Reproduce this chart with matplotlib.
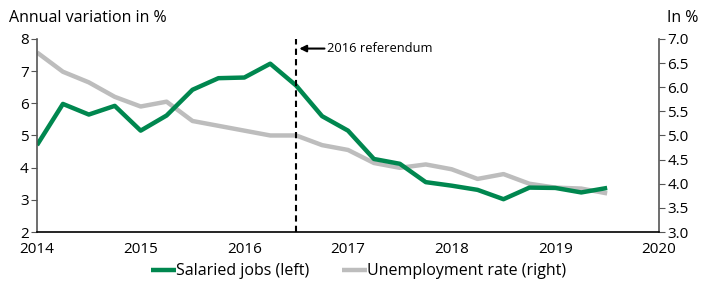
import matplotlib
matplotlib.use("Agg")
import matplotlib.pyplot as plt
import numpy as np

plt.rcParams['font.family'] = ['Open Sans', 'DejaVu Sans']

quarters = [2014.0 + 0.25 * i for i in range(23)]
salaried_jobs = [4.7, 5.98, 5.65, 5.92, 5.15, 5.62, 6.42, 6.78, 6.8, 7.23, 6.55, 5.6,
                 5.15, 4.27, 4.12, 3.55, 3.44, 3.31, 3.02, 3.38, 3.37, 3.23, 3.37]
unemployment = [6.72, 6.32, 6.1, 5.8, 5.6, 5.7, 5.3, 5.2, 5.1, 5.0, 5.0, 4.8,
                4.7, 4.43, 4.33, 4.4, 4.3, 4.1, 4.2, 4.0, 3.92, 3.9, 3.8]
referendum_x = 2016.5
x_ticks = [2014, 2015, 2016, 2017, 2018, 2019, 2020]
left_ticks = [2, 3, 4, 5, 6, 7, 8]
right_ticks = [3.0, 3.5, 4.0, 4.5, 5.0, 5.5, 6.0, 6.5, 7.0]

green = '#00874F'
grey = '#BDBDBD'

fig = plt.figure(figsize=(7.17, 2.84), dpi=100)
ax = fig.add_axes([0.0516, 0.183, 0.8675, 0.68])
ax2 = ax.twinx()

l2, = ax2.plot(quarters, unemployment, color=grey, lw=3.2, solid_capstyle='butt',
               label='Unemployment rate (right)')
l1, = ax.plot(quarters, salaried_jobs, color=green, lw=3.2, solid_capstyle='butt',
              label='Salaried jobs (left)')
ax.set_zorder(ax2.get_zorder() + 1)
ax.patch.set_visible(False)

ax.axvline(referendum_x, color='black', lw=1.5, ls=(0, (3, 2)))
ax.annotate('2016 referendum', xy=(referendum_x + 0.03, 7.7), xytext=(referendum_x + 0.3, 7.7),
            fontsize=9.3, va='center', ha='left',
            arrowprops=dict(arrowstyle='-|>', color='black', lw=1.5, shrinkA=0, shrinkB=0,
                            mutation_scale=10))

ax.set_xlim(2014, 2020)
ax.set_ylim(2, 8)
ax2.set_ylim(3, 7)
ax.set_xticks(x_ticks)
ax.set_yticks(left_ticks)
ax2.set_yticks(right_ticks)
ax2.set_yticklabels([f'{v:.1f}' for v in right_ticks])

for a in (ax, ax2):
    a.spines['top'].set_visible(False)
    a.tick_params(labelsize=11, colors='black')
ax.spines['right'].set_visible(False)
ax2.spines['left'].set_visible(False)
ax2.spines['bottom'].set_visible(False)
ax.spines['left'].set_color('#555555')
ax2.spines['right'].set_color('#555555')
ax.spines['bottom'].set_color('black')
for s in ('left', 'bottom'):
    ax.spines[s].set_linewidth(1.2)
ax2.spines['right'].set_linewidth(1.2)
ax.tick_params(axis='x', length=0, pad=7)
ax.tick_params(axis='y', length=4, color='#555555', pad=2)
ax2.tick_params(axis='y', length=4, color='#555555', pad=2)

fig.text(0.012, 0.935, 'Annual variation in %', fontsize=11.5, ha='left', va='center')
fig.text(0.93, 0.935, 'In %', fontsize=11.5, ha='left', va='center')

fig.legend([l1, l2], [l1.get_label(), l2.get_label()], loc='center', bbox_to_anchor=(0.5, 0.045),
           ncol=2, frameon=False, fontsize=11.5, handlelength=1.6, handletextpad=0.0,
           columnspacing=2.0)

fig.savefig('out.png', dpi=100)
